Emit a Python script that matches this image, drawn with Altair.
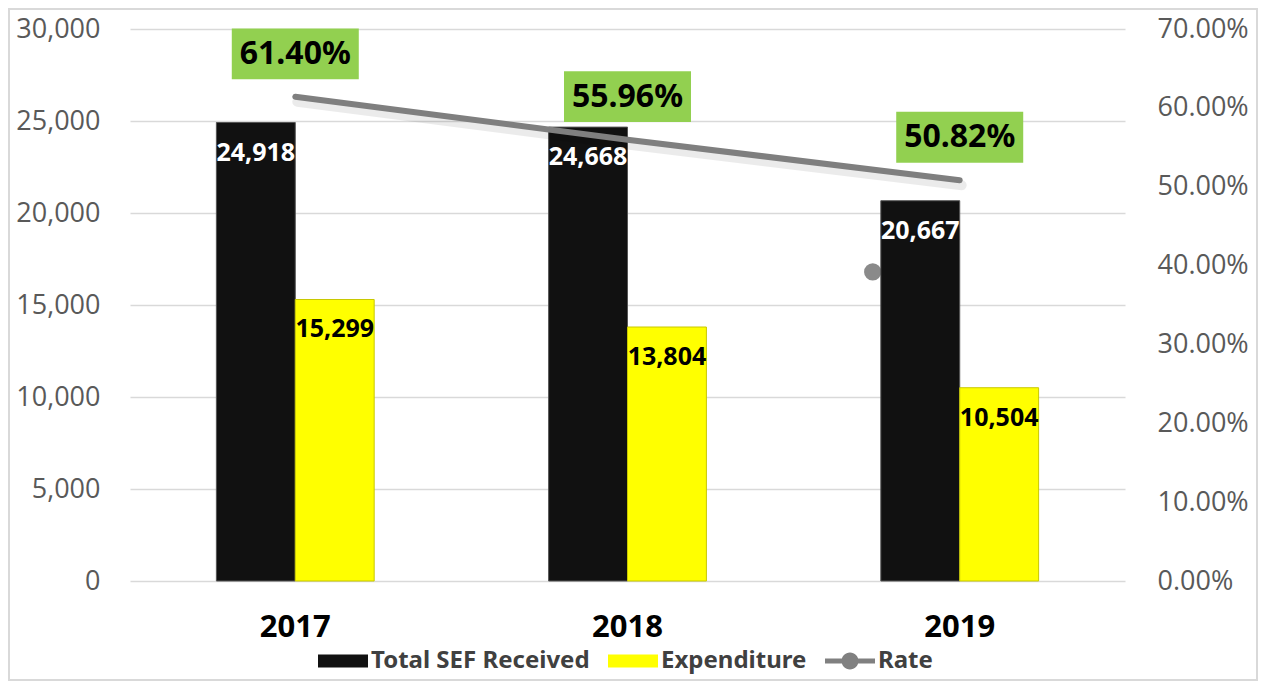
import altair as alt
import pandas as pd

# ---------------- data ----------------
YEARS = ["2017", "2018", "2019"]
SERIES = ["Total SEF Received", "Expenditure"]
SEF_RECEIVED = [24918, 24668, 20667]
EXPENDITURE = [15299, 13804, 10504]
RATE = [0.6140, 0.5596, 0.5082]
LEGEND_ITEMS = ["Total SEF Received", "Expenditure", "Rate"]
STRAY_MARKER_YEAR = ["2019"]
STRAY_MARKER_VALUE = [0.392]
LEFT_TICKS = [0, 5000, 10000, 15000, 20000, 25000, 30000]
RIGHT_TICKS = [0.0, 0.1, 0.2, 0.3, 0.4, 0.5, 0.6, 0.7]

bars_df = pd.DataFrame({
    "Year": YEARS + YEARS,
    "Series": [SERIES[0]] * len(YEARS) + [SERIES[1]] * len(YEARS),
    "Value": SEF_RECEIVED + EXPENDITURE,
})
rate_df = pd.DataFrame({"Year": YEARS, "Rate": RATE})
stray_df = pd.DataFrame({"Year": STRAY_MARKER_YEAR, "Rate": STRAY_MARKER_VALUE})
legend_df = pd.DataFrame({"Item": LEGEND_ITEMS})
frame_df = pd.DataFrame({"k": [0]})

# ---------------- styles ----------------
W, H = 995, 552
BOLD_FONT = "Noto Sans"
TICK_FONT = "Open Sans"
BOX_PATH = "M-1,-0.4H1V0.4H-1Z"
RECT_SYM = "M-1,-0.26H1V0.26H-1Z"
RATE_SYM = ("M-1,-0.1H1V0.1H-1Z "
            "M0.34,0A0.34,0.34 0 1,1 -0.34,0A0.34,0.34 0 1,1 0.34,0Z")

X_ENC = alt.X(
    "Year:N",
    scale=alt.Scale(domain=YEARS, paddingInner=0.525, paddingOuter=0.26),
    axis=alt.Axis(title=None, labelFont=BOLD_FONT, labelFontSize=31,
                  labelFontWeight="bold", labelColor="black", labelPadding=31,
                  ticks=False, domain=False, labelAngle=0),
)
XOFF = alt.XOffset("Series:N",
                   scale=alt.Scale(domain=SERIES, paddingInner=0, paddingOuter=0))

Y_LEFT = alt.Y(
    "Value:Q",
    scale=alt.Scale(domain=[0, 30000], nice=False, zero=True),
    axis=alt.Axis(values=LEFT_TICKS, format=",d", title=None, orient="left",
                  grid=True, gridColor="#d9d9d9", gridWidth=1.5, domain=False,
                  ticks=False, labelFont=TICK_FONT, labelFontSize=27,
                  labelColor="#595959", labelPadding=30),
)
Y_RIGHT = alt.Y(
    "Rate:Q",
    scale=alt.Scale(domain=[0, 0.7], nice=False, zero=True),
    axis=alt.Axis(values=RIGHT_TICKS, format=".2%", title=None, orient="right",
                  grid=False, domain=False, ticks=False, labelFont=TICK_FONT,
                  labelFontSize=27, labelColor="#595959", labelPadding=32),
)
Y_RIGHT_NOAXIS = alt.Y("Rate:Q", scale=alt.Scale(domain=[0, 0.7], nice=False, zero=True),
                       axis=None)

is_sef = alt.datum.Series == SERIES[0]

# ---------------- layers ----------------
frame = alt.Chart(frame_df).mark_rect(fillOpacity=0, stroke="#d9d9d9", strokeWidth=2).encode(
    x=alt.value(-121), x2=alt.value(1127), y=alt.value(-20), y2=alt.value(651)
)

stray = alt.Chart(stray_df).mark_circle(size=300, color="#8a8a8a", opacity=1, xOffset=-87).encode(
    x=X_ENC, y=Y_RIGHT_NOAXIS
)

bars = alt.Chart(bars_df).mark_bar(strokeWidth=1).encode(
    x=X_ENC, xOffset=XOFF, y=Y_LEFT,
    color=alt.condition(is_sef, alt.value("#111111"), alt.value("#ffff00")),
    stroke=alt.condition(is_sef, alt.value("#555555"), alt.value("#c8c800")),
)
bar_text = alt.Chart(bars_df).mark_text(
    font=BOLD_FONT, fontSize=25, fontWeight="bold", baseline="middle", dy=30
).encode(
    x=X_ENC, xOffset=XOFF, y=Y_LEFT,
    text=alt.Text("Value:Q", format=",d"),
    color=alt.condition(is_sef, alt.value("white"), alt.value("black")),
)
bar_group = alt.layer(bars, bar_text)

shadow = alt.Chart(rate_df).mark_line(
    color="#000000", opacity=0.08, strokeWidth=10, strokeCap="round", yOffset=5, xOffset=2
).encode(x=X_ENC, y=Y_RIGHT)
line = alt.Chart(rate_df).mark_line(
    color="#7f7f7f", strokeWidth=6, strokeCap="round"
).encode(x=X_ENC, y=Y_RIGHT)
boxes = alt.Chart(rate_df).mark_point(
    shape=BOX_PATH, size=16129, filled=True, color="#92D050", opacity=1,
    strokeWidth=0, yOffset=-43
).encode(x=X_ENC, y=Y_RIGHT)
rate_text = alt.Chart(rate_df).mark_text(
    font=BOLD_FONT, fontSize=32, fontWeight="bold", color="black",
    baseline="middle", dy=-43
).encode(x=X_ENC, y=Y_RIGHT, text=alt.Text("Rate:Q", format=".2%"))
rate_group = alt.layer(shadow, line, boxes, rate_text)

LEG = alt.Legend(
    title=None, orient="none", legendX=188, legendY=607, direction="horizontal",
    symbolSize=2500, symbolStrokeWidth=0, symbolOpacity=1, labelFont=BOLD_FONT,
    labelFontSize=24, labelFontWeight="bold", labelColor="#404040",
    labelOffset=3, columnPadding=18, padding=0, labelLimit=400,
)
legend_layer = alt.Chart(legend_df).mark_point(filled=True, opacity=1).encode(
    color=alt.Color("Item:N", scale=alt.Scale(domain=LEGEND_ITEMS,
                    range=["#111111", "#ffff00", "#808080"]), legend=LEG),
    shape=alt.Shape("Item:N", scale=alt.Scale(domain=LEGEND_ITEMS,
                    range=[RECT_SYM, RECT_SYM, RATE_SYM]), legend=LEG),
).transform_filter("false")

chart = alt.layer(frame, stray, bar_group, rate_group, legend_layer).resolve_scale(
    y="independent"
).properties(
    width=W, height=H, autosize="none",
    padding={"left": 122, "top": 21, "right": 136, "bottom": 101},
    background="white",
).configure_view(strokeWidth=0)

chart.save("out.html", embed_options={"renderer": "svg", "actions": False})
